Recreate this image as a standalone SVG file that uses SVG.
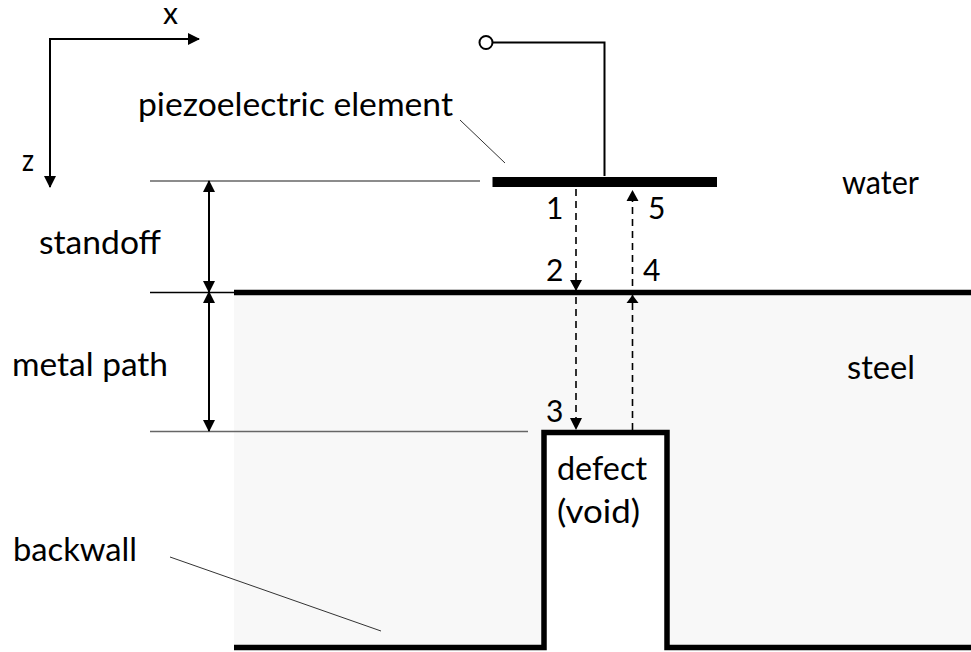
<svg xmlns="http://www.w3.org/2000/svg" width="971" height="652" viewBox="0 0 971 652">
<style>
text{font-family:Lato,"Open Sans","Liberation Sans",sans-serif;font-size:33.500px;fill:#000}
text.n{font-size:30px}
.ln{fill:none;stroke:#000;stroke-width:2}
.thin{fill:none;stroke:#666;stroke-width:1.3}
.lead{fill:none;stroke:#333;stroke-width:1}
.thk{fill:none;stroke:#000;stroke-width:5.5;stroke-linejoin:miter}
.dash{fill:none;stroke:#000;stroke-width:1.6;stroke-dasharray:7 5}
.head{fill:#000}
</style>
<defs>
<marker id="a" markerUnits="userSpaceOnUse" markerWidth="12" markerHeight="12" refX="11" refY="6" orient="auto-start-reverse"><path d="M0 0L12 6L0 12Z" fill="#000"/></marker>
</defs>
<rect id="steel" x="234" y="292" width="737" height="354" fill="#f8f8f8"/>
<rect id="void" x="545" y="432" width="122" height="220" fill="#fff"/>
<g id="connectors">
<path class="ln" d="M50 187V39H199" marker-start="url(#a)" marker-end="url(#a)"/>
<path class="thin" d="M150 181H480"/>
<path class="ln" style="stroke-width:1.500" d="M150 292.500H236"/>
<path class="thin" d="M150 431.500H528"/>
<path class="ln" d="M209 181V292" marker-start="url(#a)" marker-end="url(#a)"/>
<path class="ln" d="M209 292V431" marker-start="url(#a)" marker-end="url(#a)"/>
<path class="lead" d="M460 120L505 163"/>
<path class="lead" d="M170 557L381 631"/>
<path class="ln" d="M493 42.500H604.500V176"/>
<path class="dash" d="M576 189V420"/>
<path class="dash" d="M632.500 430V200"/>
<path class="head" d="M570 280H582L576 291ZM570 418H582L576 430ZM626.500 201H638.500L632.500 190ZM626.500 303H638.500L632.500 295Z"/>
</g>
<g id="surface"><path class="thk" d="M234 292.500H971"/><path class="thk" d="M234 647.500H544V432.500H667V647.500H971"/></g>
<g id="element"><rect x="492.500" y="177" width="224.500" height="10" fill="#000"/><circle cx="486" cy="42.500" r="6.500" fill="#fff" stroke="#000" stroke-width="2"/></g>
<g id="labels">
<text class="n" x="163" y="24" textLength="15" lengthAdjust="spacingAndGlyphs">x</text>
<text class="n" x="22" y="171" textLength="12" lengthAdjust="spacingAndGlyphs">z</text>
<text x="138" y="116" textLength="315" lengthAdjust="spacingAndGlyphs">piezoelectric element</text>
<text x="39" y="254" textLength="122" lengthAdjust="spacingAndGlyphs">standoff</text>
<text x="12" y="376" textLength="156" lengthAdjust="spacingAndGlyphs">metal path</text>
<text x="842" y="194" textLength="77" lengthAdjust="spacingAndGlyphs">water</text>
<text x="847" y="379" textLength="68" lengthAdjust="spacingAndGlyphs">steel</text>
<text x="13" y="561" textLength="124" lengthAdjust="spacingAndGlyphs">backwall</text>
<text x="557" y="480" textLength="90" lengthAdjust="spacingAndGlyphs">defect</text>
<text x="557" y="523" textLength="83" lengthAdjust="spacingAndGlyphs">(void)</text>
<text class="n" x="546" y="219">1</text><text class="n" x="648" y="219">5</text>
<text class="n" x="546" y="281">2</text><text class="n" x="643" y="281">4</text>
<text class="n" x="546" y="422">3</text>
</g>
</svg>
